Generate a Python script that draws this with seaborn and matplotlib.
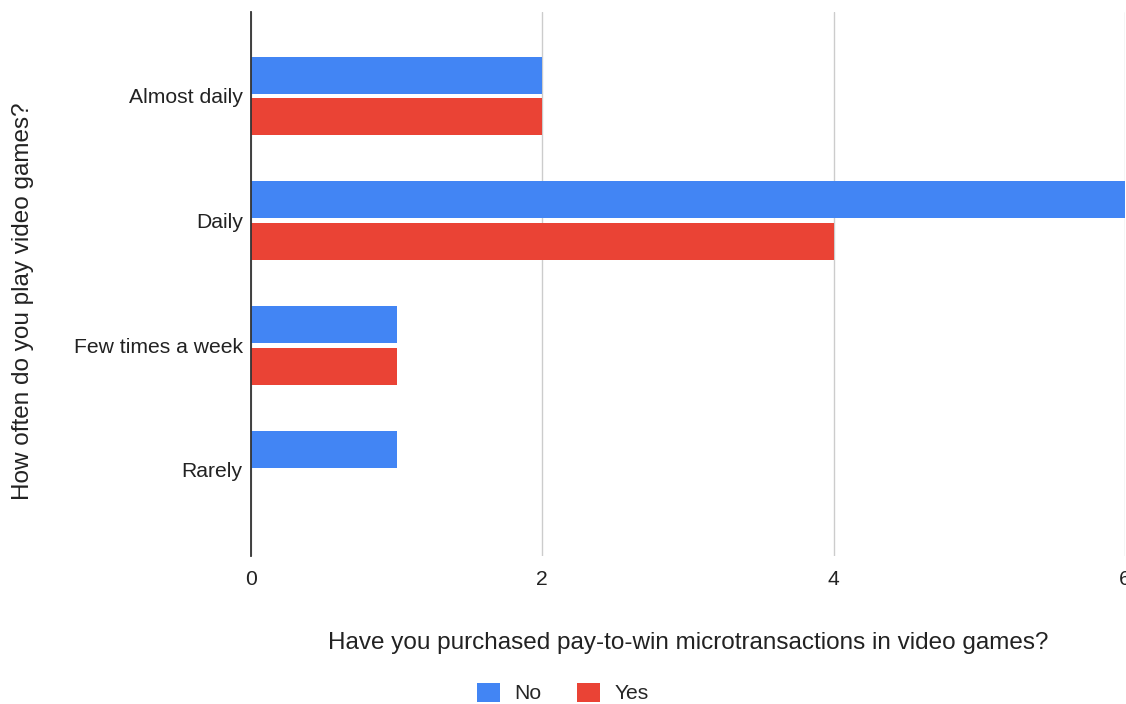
import matplotlib
matplotlib.use("Agg")
import matplotlib.pyplot as plt
import seaborn as sns
import pandas as pd

categories = ["Almost daily", "Daily", "Few times a week", "Rarely"]
no_counts = [2, 6, 1, 1]
yes_counts = [2, 4, 1, 0]
series_names = ["No", "Yes"]
x_ticks = [0, 2, 4, 6]

df = pd.DataFrame({
    "freq": categories * 2,
    "count": no_counts + yes_counts,
    "purchased": [series_names[0]] * len(categories) + [series_names[1]] * len(categories),
})

sns.set_theme(style="white")
plt.rcParams["font.family"] = ["Liberation Sans", "DejaVu Sans"]

fig = plt.figure(figsize=(11.26, 7.04), dpi=100)
ax = fig.add_axes([0.2229, 0.2102, 0.7762, 0.7728])

sns.barplot(
    data=df, y="freq", x="count", hue="purchased", order=categories,
    hue_order=series_names, palette=["#4285F4", "#EA4335"],
    orient="h", width=0.67, gap=0.11, ax=ax, legend=True,
    saturation=1, linewidth=0,
)

ax.set_xlim(0, 6)
ax.set_ylim(3.69, -0.674)
ax.set_xticks(x_ticks)
ax.set_xticklabels([str(t) for t in x_ticks])
ax.xaxis.grid(True, color="#cccccc", linewidth=1)
ax.set_axisbelow(True)
for s in ["top", "right", "bottom"]:
    ax.spines[s].set_visible(False)
ax.spines["left"].set_color("#333333")
ax.spines["left"].set_linewidth(1.3)
ax.tick_params(axis="both", length=0, labelsize=15.2, colors="#222222")
ax.tick_params(axis="y", pad=6)
ax.tick_params(axis="x", pad=10)

ax.set_xlabel("Have you purchased pay-to-win microtransactions in video games?",
              fontsize=17.5, color="#222222", va="center")
ax.xaxis.set_label_coords(0.5, (556 - 643) / 544)
ax.set_ylabel("How often do you play video games?", fontsize=17.5,
              color="#222222", va="center")
ax.yaxis.set_label_coords((23 - 251) / 874, (556 - 301) / 544)

leg = ax.get_legend()
leg.remove()
handles, labels = ax.get_legend_handles_labels()
fig.legend(handles, labels, loc="center", bbox_to_anchor=(0.5, 1 - 693 / 704),
           ncol=2, frameon=False, fontsize=15.2, handlelength=1.05,
           handleheight=1.05, columnspacing=1.7, handletextpad=0.7)

fig.savefig("out.png", dpi=100)
